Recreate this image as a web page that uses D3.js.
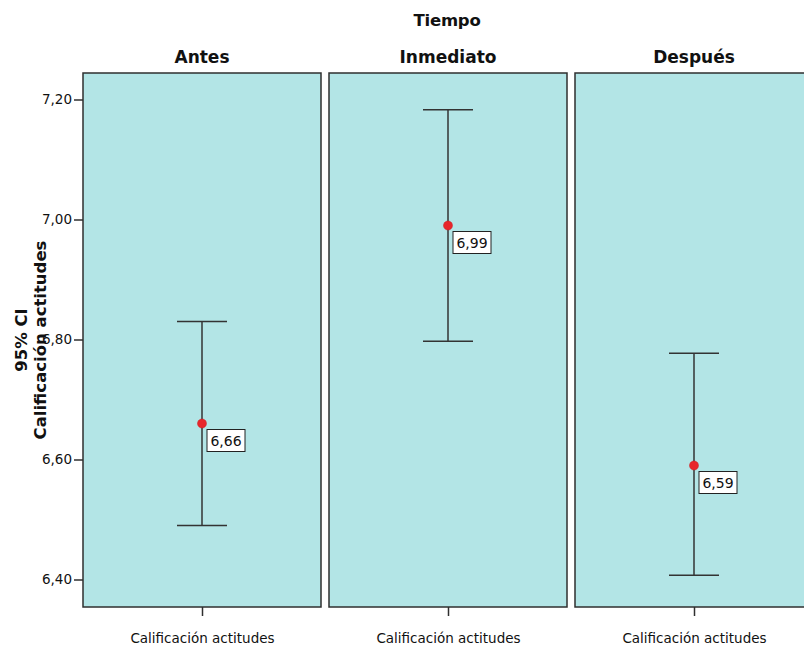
<!DOCTYPE html>
<html>
<head>
<meta charset="utf-8">
<script src="https://cdn.jsdelivr.net/npm/d3@7"></script>
<style>
  html, body { margin: 0; padding: 0; background: #fff; }
  svg { display: block; font-family: "DejaVu Sans", "Noto Sans", sans-serif; }
</style>
</head>
<body>
<svg id="chart" width="804" height="645"></svg>
<script>
// Mean rating with 95% confidence interval, one panel per time point
const panels = ["Antes", "Inmediato", "Después"];
const means = [6.66, 6.99, 6.59];
const ciLower = [6.49, 6.797, 6.407];
const ciUpper = [6.83, 7.183, 6.777];
const yTicks = [6.40, 6.60, 6.80, 7.00, 7.20];
const xCategory = "Calificación actitudes";
const facetTitle = "Tiempo";
const yTitleLines = ["95% CI", "Calificación actitudes"];

const svg = d3.select("#chart");
const fmt = v => d3.format(".2f")(v).replace(".", ",");

const plotTop = 73, plotBottom = 607;
const panelLeft = 83, panelW = 238, panelGap = 8;

const y = d3.scaleLinear().domain([6.40, 7.20]).range([579.5, 99.5]);
const fx = d3.scaleBand().domain(panels)
  .range([panelLeft, panelLeft + panels.length * panelW + (panels.length - 1) * panelGap])
  .paddingInner(panelGap / (panelW + panelGap)).paddingOuter(0);

const fill = "#b3e5e6", stroke = "#2f2f2f";

// Facet header
svg.append("text").attr("x", 447).attr("y", 26).attr("text-anchor", "middle")
  .attr("font-weight", "bold").attr("font-size", 16.5).attr("fill", "#111")
  .attr("letter-spacing", -0.2).text(facetTitle);

panels.forEach((p, i) => {
  const x0 = fx(p), w = fx.bandwidth();
  const g = svg.append("g");
  g.append("rect").attr("x", x0).attr("y", plotTop).attr("width", w)
    .attr("height", plotBottom - plotTop).attr("fill", fill)
    .attr("stroke", stroke).attr("stroke-width", 1.5);

  g.append("text").attr("x", x0 + w / 2).attr("y", 63).attr("text-anchor", "middle")
    .attr("font-weight", "bold").attr("font-size", 17).attr("fill", "#111").text(p);

  // x axis: one category per panel
  const xs = d3.scalePoint().domain([xCategory]).range([x0, x0 + w]).padding(0.5);
  const ax = g.append("g").attr("transform", `translate(0,${plotBottom})`)
    .call(d3.axisBottom(xs).tickSize(9).tickPadding(17));
  ax.select(".domain").remove();
  ax.selectAll("line").attr("stroke", stroke).attr("stroke-width", 1.5);
  ax.selectAll("text").attr("font-size", 13.5).attr("fill", "#111")
    .attr("font-family", "DejaVu Sans, sans-serif");

  const cx = xs(xCategory);
  const cap = 25;
  const eg = g.append("g").attr("stroke", "#333").attr("stroke-width", 1.5);
  eg.append("line").attr("x1", cx).attr("x2", cx).attr("y1", y(ciUpper[i])).attr("y2", y(ciLower[i]));
  eg.append("line").attr("x1", cx - cap).attr("x2", cx + cap).attr("y1", y(ciUpper[i])).attr("y2", y(ciUpper[i]));
  eg.append("line").attr("x1", cx - cap).attr("x2", cx + cap).attr("y1", y(ciLower[i])).attr("y2", y(ciLower[i]));

  g.append("circle").attr("cx", cx).attr("cy", y(means[i])).attr("r", 4.5)
    .attr("fill", "#e8262b").attr("stroke", "#c81e22").attr("stroke-width", 0.5);

  // value label
  const lx = cx + 5, ly = y(means[i]) + 6;
  g.append("rect").attr("x", lx).attr("y", ly).attr("width", 38).attr("height", 22)
    .attr("fill", "#fff").attr("stroke", "#222").attr("stroke-width", 1);
  g.append("text").attr("x", lx + 19).attr("y", ly + 16).attr("text-anchor", "middle")
    .attr("font-size", 14).attr("fill", "#111").text(fmt(means[i]));
});

// y axis
const ay = svg.append("g").attr("transform", `translate(${panelLeft},0)`)
  .call(d3.axisLeft(y).tickValues(yTicks).tickFormat(fmt).tickSize(9).tickPadding(2));
ay.select(".domain").remove();
ay.selectAll("line").attr("stroke", stroke).attr("stroke-width", 1.5);
ay.selectAll("text").attr("font-size", 13.5).attr("fill", "#111")
  .attr("font-family", "DejaVu Sans, sans-serif");

// y title (two lines, rotated)
const yt = svg.append("text").attr("transform", "translate(27,340) rotate(-90)")
  .attr("text-anchor", "middle").attr("font-weight", "bold").attr("font-size", 16.5).attr("fill", "#111");
yt.append("tspan").attr("x", 0).attr("y", 0).text(yTitleLines[0]);
yt.append("tspan").attr("x", 0).attr("y", 19).text(yTitleLines[1]);
</script>
</body>
</html>
